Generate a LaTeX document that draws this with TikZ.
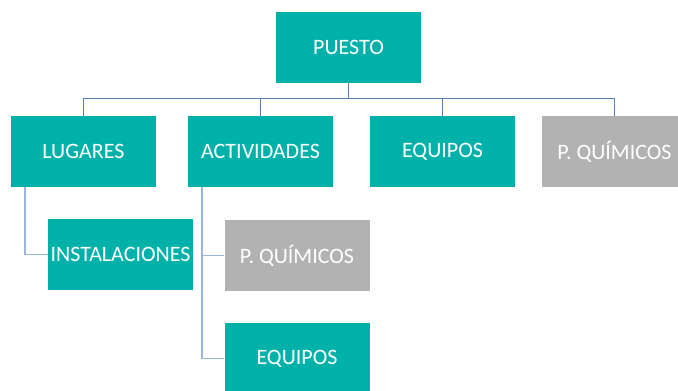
\documentclass[tikz,border=0pt]{standalone}
\usepackage{fontspec}
\setmainfont{Carlito}

\definecolor{verdeazul}{RGB}{0,177,169}
\definecolor{grisq}{RGB}{178,178,178}
\definecolor{lineaosc}{RGB}{88,128,180}
\definecolor{lineaclara}{RGB}{152,182,222}

\tikzset{
  caja/.style={fill=verdeazul, text=white, minimum width=145pt, minimum height=71pt,
    inner sep=0pt, font=\fontsize{22}{22}\selectfont},
  cajagris/.style={caja, fill=grisq},
  rama/.style={draw=lineaosc, line width=1.5pt},
  subrama/.style={draw=lineaclara, line width=1.7pt}
}

\begin{document}
\begin{tikzpicture}[x=1pt,y=-1pt]
  \useasboundingbox (0,0) rectangle (678,391);
  \clip (0,0) rectangle (678,391);

  \node[caja] (puesto) at (348.5,47) {PUESTO};

  \node[caja] (lugares) at (83.5,151.5) {LUGARES};
  \node[caja] (actividades) at (260.5,151.5) {ACTIVIDADES};
  \node[caja] (equipos) at (442.5,151.5) {EQUIPOS};
  \node[cajagris] (quimicos) at (614.5,151.5) {P. QUÍMICOS};

  \node[caja] (instalaciones) at (120.5,254.5) {INSTALACIONES};
  \node[cajagris] (quimicosb) at (297,255.5) {P. QUÍMICOS};
  \node[caja] (equiposb) at (297,358.5) {EQUIPOS};

  % primer nivel
  \draw[rama] (puesto.south) -- ++(0,16) -| (lugares.north);
  \draw[rama] (puesto.south) -- ++(0,16) -| (actividades.north);
  \draw[rama] (puesto.south) -- ++(0,16) -| (equipos.north);
  \draw[rama] (puesto.south) -- ++(0,16) -| (quimicos.north);

  % segundo nivel
  \draw[subrama] ([xshift=-58.5pt]lugares.south) |- (instalaciones.west);
  \draw[subrama] ([xshift=-58.5pt]actividades.south) |- (quimicosb.west);
  \draw[subrama] ([xshift=-58.5pt]actividades.south) |- (equiposb.west);
\end{tikzpicture}
\end{document}
